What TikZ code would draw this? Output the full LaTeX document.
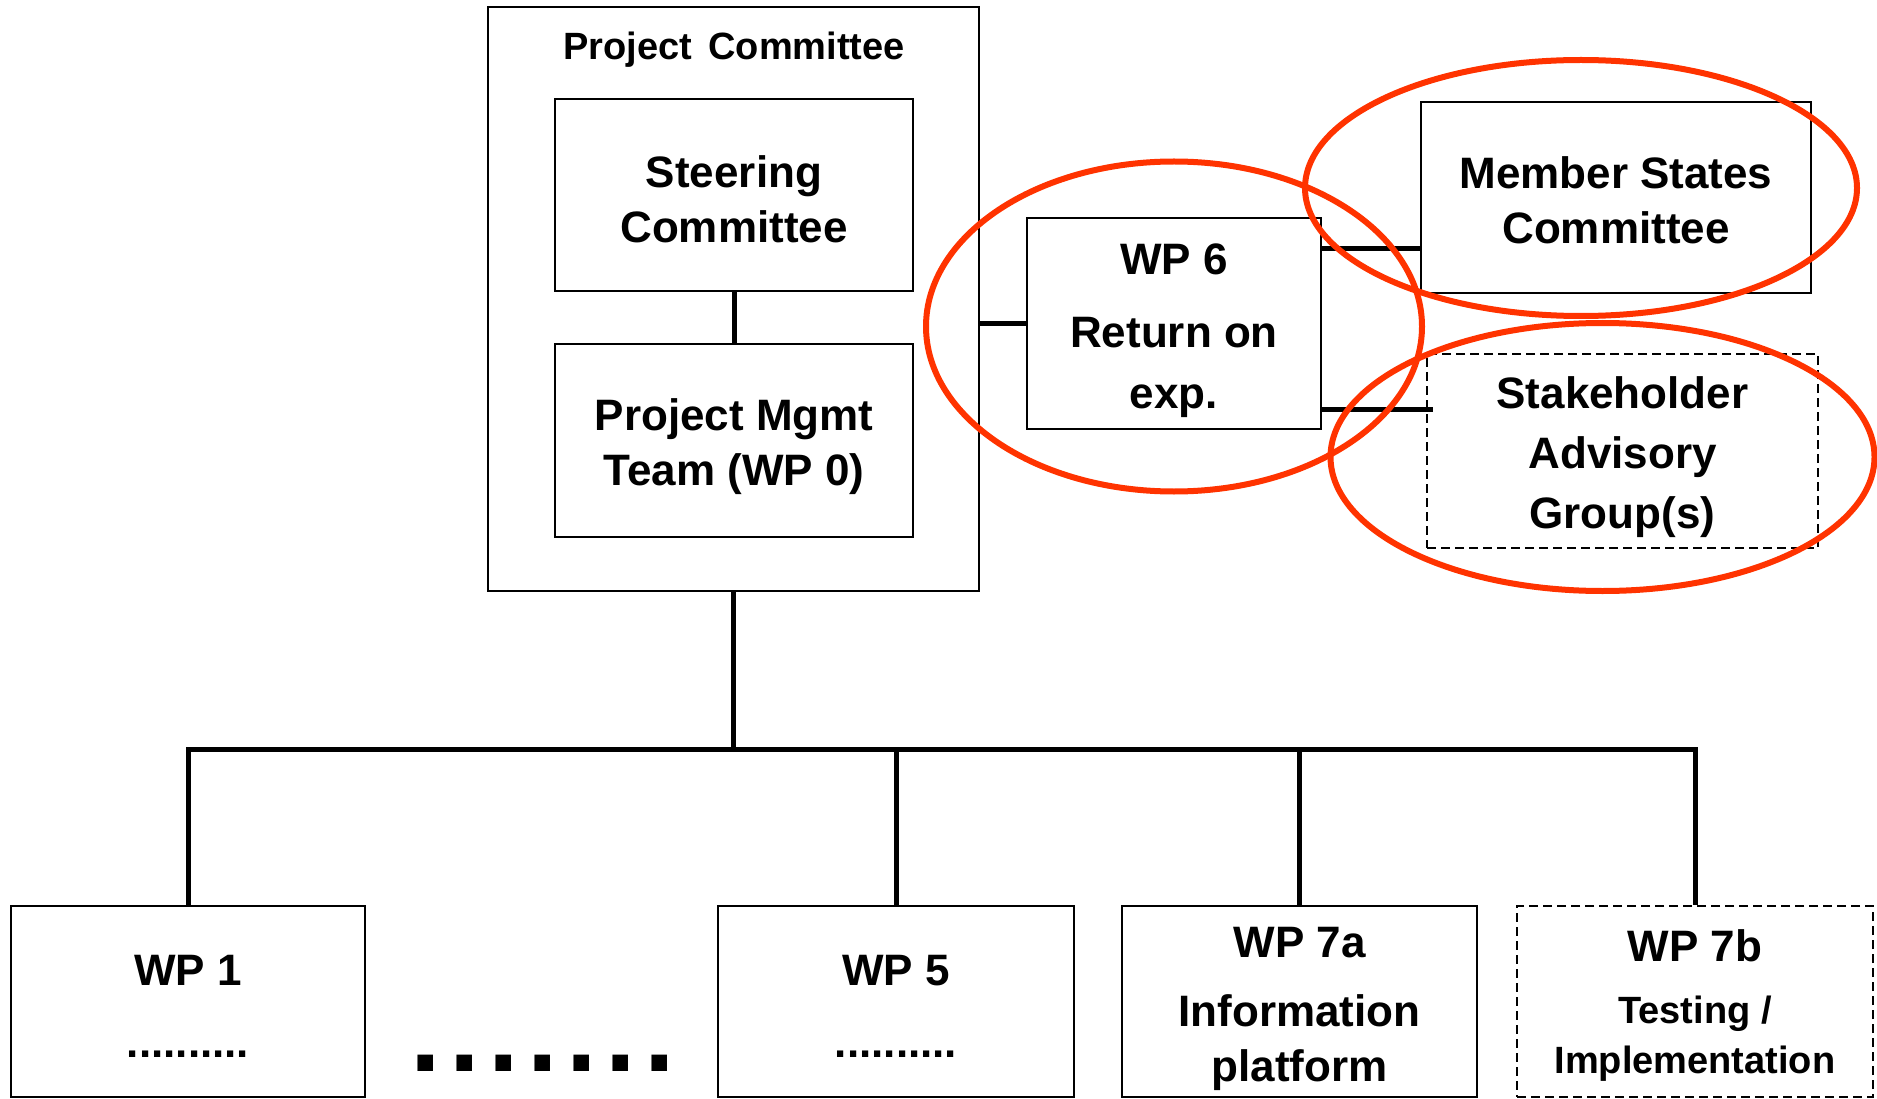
\documentclass[tikz,border=0pt]{standalone}
\usepackage{fontspec}
\setmainfont{Liberation Sans}
\usepackage{tikz}
\usetikzlibrary{calc}
\definecolor{ringred}{RGB}{255,51,0}

\begin{document}
\begin{tikzpicture}[x=1pt,y=-1pt,
  every node/.style={font=\bfseries\fontsize{44}{55}\selectfont,align=center},
  box/.style={shape=rectangle,draw=black,line width=2pt,inner sep=0pt},
  dashbox/.style={box,dash pattern=on 9pt off 5pt},
  link/.style={draw=black,line width=5pt},
  ring/.style={draw=ringred,line width=6pt}]

\useasboundingbox (0,0) rectangle (1877,1099);

% Project committee and its inner boxes
\node[box,minimum width=491pt,minimum height=584pt] (pc) at (733.5,299) {};
\node[font=\bfseries\fontsize{38}{40}\selectfont] (pctitle) at (734,50) {Project\hspace{6pt} Committee};
\node[box,minimum width=358pt,minimum height=192pt] (steer) at (734,195) {\rule{0pt}{40pt}Steering\\Committee};
\node[box,minimum width=358pt,minimum height=193pt] (pmt) at (734,440.5) {\rule{0pt}{44pt}Project Mgmt\\Team (WP 0)};

% WP 6 and the committees beside it
\node[box,minimum width=294pt,minimum height=211pt] (wp6) at (1174,323.5) {\rule{0pt}{46pt}WP 6\\[18pt]Return on\\[6pt]exp.};
\node[box,minimum width=390pt,minimum height=191pt] (msc) at (1616,197.5) {\rule{0pt}{38pt}Member States\\Committee};
\node[dashbox,minimum width=391pt,minimum height=194pt] (sag) at (1622.5,451) {\rule{0pt}{44pt}Stakeholder\\[5pt]Advisory\\[5pt]Group(s)};

% Work packages
\node[box,minimum width=354pt,minimum height=191pt] (wp1) at (188,1001.5) {\rule{0pt}{40pt}WP 1\\[17pt]..........};
\node[box,minimum width=356pt,minimum height=191pt] (wp5) at (896,1001.5) {\rule{0pt}{40pt}WP 5\\[17pt]..........};
\node[box,minimum width=355pt,minimum height=191pt] (wp7a) at (1299.5,1001.5) {\rule{0pt}{46pt}WP 7a\\[14pt]Information\\[0pt]platform};
\node[dashbox,minimum width=356pt,minimum height=191pt] (wp7b) at (1695,1001.5)
  {\rule{0pt}{40pt}WP 7b\\[7pt]\fontsize{38}{49}\selectfont Testing /\\[-5pt]\fontsize{38}{49}\selectfont Implementation};
\node (gap) at (543,1063) {\fontsize{110}{110}\selectfont .\kern8.4pt.\kern8.4pt.\kern8.4pt.\kern8.4pt.\kern8.4pt.\kern8.4pt.};

% Links
\draw[link] (steer) -- (pmt);
\draw[link] (wp6.west -| pc.east) -- (wp6.west);
\coordinate (msjoin) at ($(wp6.north east)!0.15!(wp6.south east)$);
\coordinate (sagjoin) at ($(wp6.north east)!0.905!(wp6.south east)$);
\draw[link] (msjoin) -- (msjoin -| msc.west);
\draw[link] (sagjoin) -- ([xshift=7pt]sagjoin -| sag.west);

% Tree down to the work packages
\coordinate (bus) at (733.5,749);
\draw[link] (pc.south) -- (bus);
\draw[link] (wp1.north) -- (wp1.north |- bus) -- (wp7b.north |- bus) -- (wp7b.north);
\draw[link] (wp5.north) -- (wp5.north |- bus);
\draw[link] (wp7a.north) -- (wp7a.north |- bus);

% Red rings
\draw[ring] ([yshift=-3pt]wp6.center) ellipse [x radius=248, y radius=165];
\draw[ring] ([xshift=-35pt,yshift=9.5pt]msc.center) ellipse [x radius=276, y radius=128];
\draw[ring] ([xshift=-20pt,yshift=-6pt]sag.center) ellipse [x radius=272, y radius=134];

\end{tikzpicture}
\end{document}
